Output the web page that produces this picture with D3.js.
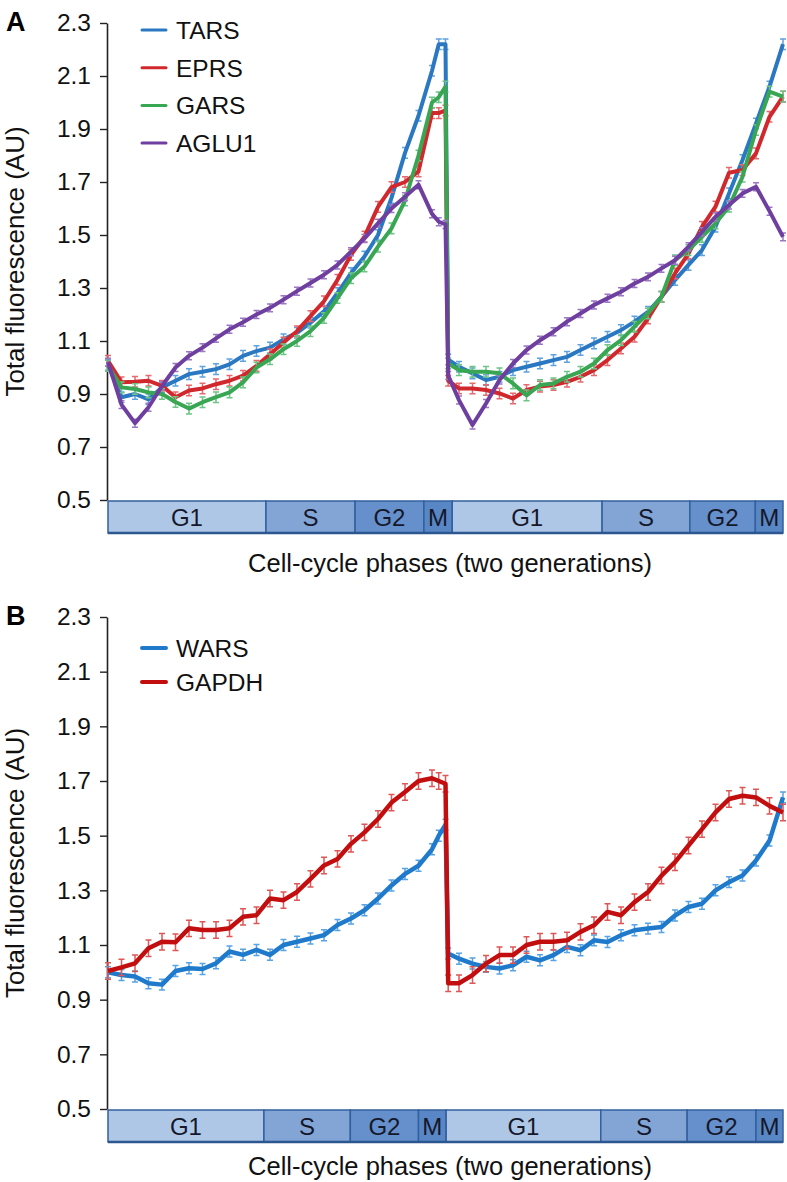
<!DOCTYPE html>
<html>
<head>
<meta charset="utf-8">
<script src="https://cdn.jsdelivr.net/npm/d3@7"></script>
<style>
  body { margin: 0; background: #fff; }
  svg { font-family: "Liberation Sans", Arial, Helvetica, sans-serif; }
</style>
</head>
<body>
<svg id="chart" width="787" height="1182"></svg>
<script>
const width = 787;
const height = 1182;

// progress through two cell cycles (0-100), one sample per column of the plot
const time = [0,2,4,6,8,10,12,14,16,18,20,22,24,26,28,30,32,34,36,38,40,42,44,46,48,49,50,
  50.4,52,54,56,58,60,62,64,66,68,70,72,74,76,78,80,82,84,86,88,90,92,94,96,98,100];

const phaseNames = ["G1", "S", "G2", "M", "G1", "S", "G2", "M"];
const phaseEndsA = [23.4, 36.6, 46.8, 51.0, 73.2, 86.2, 95.9, 100];
const phaseEndsB = [23.1, 35.9, 46.0, 50.1, 73.0, 85.8, 96.0, 100];
const yTicks = [0.5, 0.7, 0.9, 1.1, 1.3, 1.5, 1.7, 1.9, 2.1, 2.3];

// panel A
const namesA = ["TARS", "EPRS", "GARS", "AGLU1"];
const tars = [1.01,0.888,0.90,0.88,0.925,0.95,0.975,0.984,0.994,1.012,1.044,1.062,1.075,1.106,1.131,1.169,1.212,1.281,1.356,1.419,1.50,1.64,1.81,1.95,2.12,2.22,2.22,
  1.03,1.003,0.978,0.953,0.965,0.99,1.003,1.015,1.028,1.04,1.066,1.091,1.116,1.141,1.173,1.21,1.267,1.33,1.387,1.443,1.531,1.657,1.783,1.921,2.06,2.22];
const eprs = [1.025,0.944,0.946,0.95,0.931,0.888,0.913,0.921,0.937,0.95,0.969,1.006,1.05,1.094,1.137,1.194,1.25,1.331,1.425,1.494,1.606,1.681,1.70,1.74,1.96,1.96,1.97,
  0.95,0.921,0.921,0.915,0.902,0.883,0.915,0.928,0.934,0.946,0.965,0.99,1.028,1.072,1.116,1.185,1.267,1.355,1.43,1.531,1.607,1.735,1.745,1.808,1.946,2.022];
const gars = [1.006,0.925,0.919,0.906,0.90,0.87,0.845,0.869,0.888,0.906,0.944,1.0,1.031,1.069,1.10,1.137,1.187,1.262,1.337,1.381,1.456,1.525,1.63,1.80,2.0,2.02,2.06,
  1.015,0.99,0.984,0.984,0.978,0.94,0.895,0.934,0.94,0.965,0.984,1.015,1.066,1.103,1.154,1.204,1.267,1.405,1.443,1.493,1.544,1.607,1.72,1.896,2.041,2.022];
const aglu1 = [1.02,0.86,0.79,0.85,0.93,1.0,1.044,1.075,1.11,1.144,1.171,1.2,1.225,1.256,1.288,1.319,1.35,1.387,1.437,1.487,1.544,1.60,1.644,1.69,1.58,1.55,1.54,
  0.97,0.877,0.783,0.864,0.953,1.015,1.066,1.103,1.135,1.173,1.204,1.236,1.261,1.286,1.317,1.342,1.374,1.405,1.456,1.512,1.569,1.613,1.657,1.682,1.59,1.493];
const semA = [0.02, 0.02, 0.02, 0.015];

// panel B
const namesB = ["WARS", "GAPDH"];
const wars = [1.0,0.99,0.985,0.96,0.955,1.005,1.015,1.012,1.033,1.076,1.064,1.082,1.064,1.10,1.112,1.124,1.136,1.173,1.197,1.227,1.27,1.318,1.36,1.39,1.45,1.50,1.54,
  1.069,1.05,1.032,1.02,1.014,1.026,1.057,1.044,1.063,1.093,1.081,1.117,1.111,1.136,1.154,1.16,1.166,1.208,1.239,1.251,1.30,1.33,1.354,1.409,1.482,1.64];
const gapdh = [1.005,1.018,1.033,1.088,1.112,1.11,1.161,1.155,1.155,1.161,1.203,1.209,1.27,1.264,1.294,1.342,1.391,1.415,1.47,1.512,1.561,1.621,1.66,1.70,1.71,1.70,1.69,
  0.96,0.96,0.99,1.032,1.063,1.063,1.10,1.112,1.112,1.117,1.148,1.172,1.221,1.209,1.257,1.294,1.354,1.403,1.464,1.524,1.585,1.634,1.646,1.64,1.609,1.585];
const semB = [0.02, 0.03];

const colorsA = ["#2a78c2", "#d0282d", "#38a653", "#6f3f9f"];
const errColorsA = ["#5fa2e0", "#e66a6d", "#6cc585", "#9b78c6"];
const colorsB = ["#1f7acb", "#c20e0e"];
const errColorsB = ["#58a3e3", "#df5656"];
const phaseFill = { G1: "#afc7e6", S: "#83a5d6", G2: "#6590cb", M: "#5987c6" };

const marginLeft = 108;
const marginRight = 4;

const x = d3.scaleLinear()
  .domain([0, 100])
  .range([marginLeft, width - marginRight]);

const svg = d3.select("#chart");

function drawPanel(p) {
  const g = svg.append("g");

  const y = d3.scaleLinear()
    .domain([0.5, 2.3])
    .range([p.bottom, p.top]);

  // panel letter
  g.append("text")
    .attr("x", 6)
    .attr("y", p.top + 8)
    .attr("font-size", 27)
    .attr("font-weight", "bold")
    .text(p.letter);

  // y axis
  const yAxis = g.append("g")
    .attr("transform", `translate(${marginLeft - 1},0)`)
    .call(d3.axisLeft(y).tickValues(yTicks).tickFormat(d3.format(".1f")).tickSize(7).tickSizeOuter(0).tickPadding(9));
  yAxis.select(".domain").attr("stroke", "#222").attr("stroke-width", 1.6);
  yAxis.selectAll(".tick line").attr("stroke", "#222").attr("stroke-width", 1.4);
  yAxis.selectAll(".tick text")
    .attr("font-size", 24.5)
    .attr("font-family", "Liberation Sans, Arial, sans-serif")
    .attr("fill", "#111");

  g.append("text")
    .attr("transform", `translate(24,${(p.top + p.bottom) / 2}) rotate(-90)`)
    .attr("text-anchor", "middle")
    .attr("font-size", 26)
    .attr("fill", "#111")
    .text("Total fluorescence (AU)");

  // phase bar
  const starts = [0].concat(p.phaseEnds.slice(0, -1));
  const bar = g.append("g");
  phaseNames.forEach((name, i) => {
    bar.append("rect")
      .attr("x", x(starts[i]))
      .attr("y", p.bottom + 1)
      .attr("width", x(p.phaseEnds[i]) - x(starts[i]))
      .attr("height", 32)
      .attr("fill", phaseFill[name])
      .attr("stroke", "#33609e")
      .attr("stroke-width", 1.5);
    bar.append("text")
      .attr("x", (x(starts[i]) + x(p.phaseEnds[i])) / 2)
      .attr("y", p.bottom + 26)
      .attr("text-anchor", "middle")
      .attr("font-size", 24)
      .attr("fill", "#15182a")
      .text(name);
  });
  bar.append("line")
    .attr("x1", x(0)).attr("x2", x(100))
    .attr("y1", p.bottom + 33).attr("y2", p.bottom + 33)
    .attr("stroke", "#2c5690").attr("stroke-width", 2.5);

  g.append("text")
    .attr("x", 450)
    .attr("y", p.titleY)
    .attr("text-anchor", "middle")
    .attr("font-size", 25.5)
    .attr("fill", "#111")
    .text("Cell-cycle phases (two generations)");

  const line = d3.line()
    .x((d, i) => x(time[i]))
    .y((d) => y(d));

  p.series.forEach((values, k) => {
    const s = g.append("g");
    const err = p.sem[k];
    // error bars
    values.forEach((v, i) => {
      const cx = x(time[i]);
      s.append("path")
        .attr("d", `M${cx},${y(v - err)}V${y(v + err)}M${cx - 3},${y(v + err)}h6M${cx - 3},${y(v - err)}h6`)
        .attr("stroke", p.errColors[k])
        .attr("stroke-width", 1.5)
        .attr("fill", "none");
    });
    s.append("path")
      .datum(values)
      .attr("d", line)
      .attr("fill", "none")
      .attr("stroke", p.colors[k])
      .attr("stroke-width", p.lineWidth)
      .attr("stroke-linejoin", "round");
  });

  // legend
  const leg = g.append("g");
  p.names.forEach((name, k) => {
    const ly = p.legendTop + k * p.legendStep;
    leg.append("line")
      .attr("x1", 142).attr("x2", 166)
      .attr("y1", ly).attr("y2", ly)
      .attr("stroke", p.colors[k])
      .attr("stroke-width", p.legendWidth)
      .attr("stroke-linecap", "round");
    leg.append("text")
      .attr("x", 176)
      .attr("y", ly + 9)
      .attr("font-size", 24.5)
      .attr("fill", "#111")
      .text(name);
  });
}

drawPanel({
  letter: "A", top: 23, bottom: 500, titleY: 572,
  names: namesA, series: [tars, eprs, gars, aglu1], sem: semA,
  colors: colorsA, errColors: errColorsA, phaseEnds: phaseEndsA,
  lineWidth: 4, legendTop: 30, legendStep: 37.7, legendWidth: 3
});

drawPanel({
  letter: "B", top: 617, bottom: 1109, titleY: 1175,
  names: namesB, series: [wars, gapdh], sem: semB,
  colors: colorsB, errColors: errColorsB, phaseEnds: phaseEndsB,
  lineWidth: 4.5, legendTop: 648, legendStep: 34, legendWidth: 4
});
</script>
</body>
</html>
